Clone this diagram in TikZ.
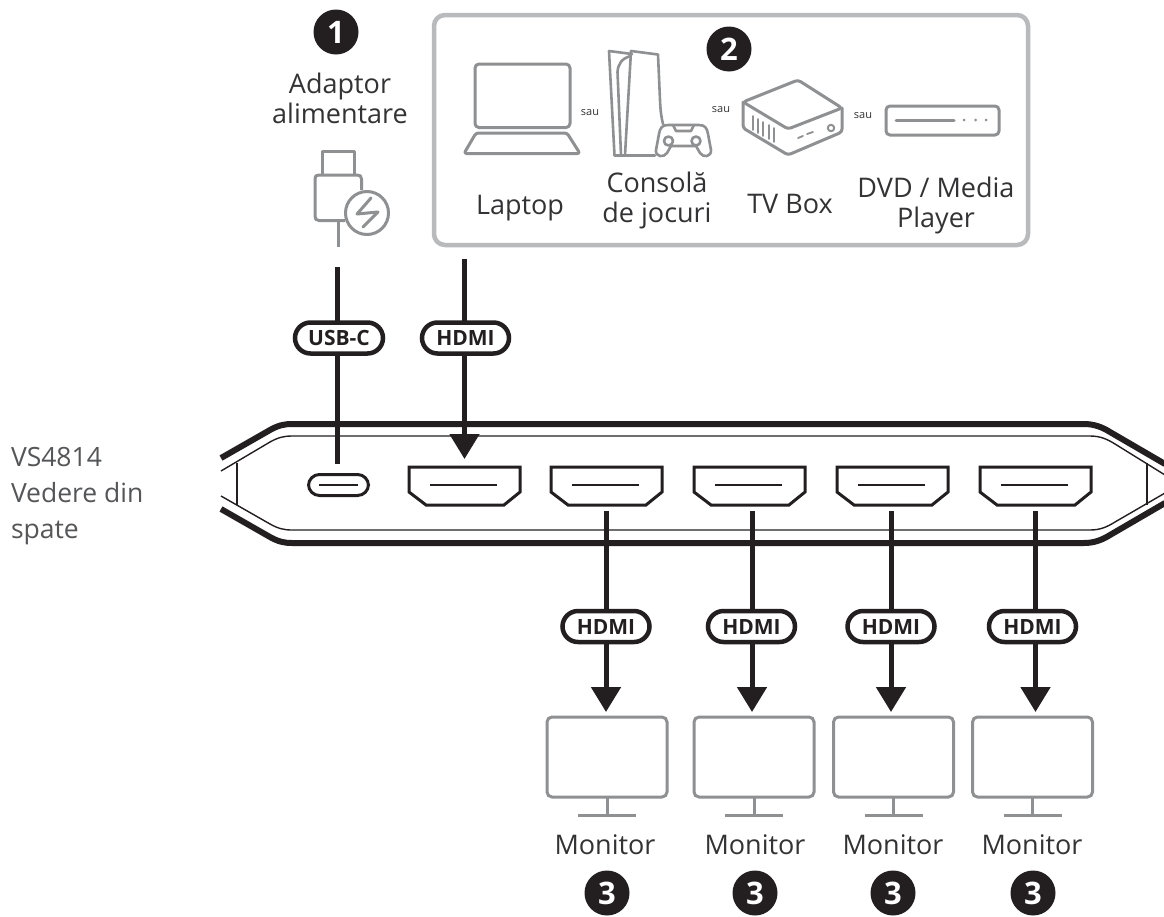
\documentclass[tikz,border=0pt]{standalone}
\usepackage{fontspec}
\setmainfont{Open Sans}
\usetikzlibrary{arrows.meta}
\definecolor{ink}{HTML}{231F20}
\definecolor{icon}{HTML}{8E9092}
\definecolor{frame}{HTML}{B8BABC}
\definecolor{txt}{HTML}{333335}
\definecolor{side}{HTML}{555658}
\tikzset{
  x=1pt,y=-1pt,
  every node/.style={inner sep=0pt,outer sep=0pt},
  badge/.style={circle,fill=ink,text=white,minimum size=45pt,font=\fontsize{31}{31}\selectfont\bfseries},
  lbl/.style={text=txt,align=center,font=\fontsize{27}{30}\selectfont},
  saulbl/.style={text=txt,font=\fontsize{11}{11}\selectfont},
  pill/.style={draw=ink,fill=white,line width=4.5pt,rounded corners=15.5pt,minimum height=31pt,text=ink,font=\fontsize{21}{21}\selectfont\bfseries},
  wire/.style={draw=ink,line width=5pt},
  flow/.style={wire,-{Triangle[length=25pt,width=29pt]}},
  thickbody/.style={draw=ink,line width=6pt},
  thinbody/.style={draw=ink,line width=1.4pt},
  port/.style={draw=ink,line width=3pt,line join=miter},
  portline/.style={draw=ink,line width=1.4pt},
  ico/.style={draw=icon,line width=3pt,line join=round,line cap=round},
  monitor/.style={draw=icon,line width=3pt,rounded corners=5pt,minimum width=120pt,minimum height=80pt},
}
\begin{document}
\begin{tikzpicture}
\path[use as bounding box,fill=white] (0,0) rectangle (1164,916);

% source frame
\node[draw=frame,line width=4.5pt,rounded corners=11pt,minimum width=594pt,minimum height=230pt,anchor=north west] (frame) at (434,15) {};

% device body
\draw[thickbody] (221,458) -- (270,430) .. controls (278,425.5) and (284,424) .. (292,424) -- (1084,424) .. controls (1094,424) and (1102,427) .. (1110,432) -- (1165,464);
\draw[thickbody] (221,509) -- (270,537) .. controls (278,541.5) and (284,543) .. (292,543) -- (1084,543) .. controls (1094,543) and (1102,540) .. (1110,535) -- (1165,503);
\draw[thinbody] (221,471) -- (270,442) .. controls (278,437.5) and (284,436) .. (292,436) -- (1090,436) .. controls (1100,436) and (1107,439) .. (1115,444) -- (1165,475);
\draw[thinbody] (221,496) -- (270,524) .. controls (278,528.5) and (284,530) .. (292,530) -- (1090,530) .. controls (1100,530) and (1107,527) .. (1115,522) -- (1165,493);
\draw[thinbody] (237,463) -- (237,505);
\draw[thinbody] (1147,463) -- (1147,505);

% ports
\node[draw=ink,line width=3pt,rounded corners=11pt,minimum width=60pt,minimum height=21pt] (usbport) at (338.5,485) {};
\draw[portline] (319,485) -- (358,485);
\foreach \i/\x in {0/409,1/551,2/694,3/837,4/980}{
  \draw[port] (\x,467) -- ({\x+111},467) -- ({\x+111},492) -- ({\x+95},505) -- ({\x+17},505) -- (\x,492) -- cycle;
  \draw[portline] ({\x+21},485) -- ({\x+88},485);
}

% input connectors
\coordinate (usbtop) at (337.5,267);
\coordinate (usbend) at (337.5,464);
\coordinate (hdmitop) at (464.5,259);
\coordinate (hdmiend) at (464.5,459);
\draw[wire] (usbtop) -- (usbend);
\draw[flow] (hdmitop) -- (hdmiend);
\node[pill,minimum width=88pt] (pusb) at (339,338) {USB-C};
\node[pill,minimum width=87pt] (phdmi) at (465.5,338) {HDMI};

% monitors and output connectors
\foreach \i/\ax/\px/\mx/\lx/\bx in {1/606/606/607/605/607,2/752/751.5/754/755/755,3/891/891/893.5/893/893,4/1035.5/1032.5/1032.5/1032/1033}{
  \node[monitor] (m\i) at (\mx,757) {};
  \draw[draw=icon,line width=3pt] (m\i.south) -- (\mx,814);
  \draw[draw=icon,line width=3pt] ({\mx-29},815) -- ({\mx+29},815);
  \coordinate (s\i) at (\ax,511);
  \coordinate (e\i) at (\ax,712);
  \draw[flow] (s\i) -- (e\i);
  \node[pill,minimum width=87pt] (p\i) at (\px,626.5) {HDMI};
  \node[lbl] (ml\i) at (\lx,845) {Monitor};
  \node[badge] (b\i) at (\bx,893) {3};
}

% badges
\node[badge] (b1top) at (336,32) {1};
\node[badge] (b2top) at (729,49) {2};

% labels
\node[lbl] (adaptor) at (340,98.5) {Adaptor\\alimentare};
\node[lbl] (laptop) at (520,208) {Laptop};
\node[lbl] (consola) at (657,200.5) {Consolă\\de jocuri};
\node[lbl] (tvbox) at (790,204) {TV Box};
\node[lbl] (dvd) at (936,205.5) {DVD / Media\\Player};
\node[saulbl] (sau1) at (590,113) {sau};
\node[saulbl] (sau2) at (721,110) {sau};
\node[saulbl] (sau3) at (863,116) {sau};
\node[anchor=west,align=left,text=side,font=\fontsize{26.5}{36}\selectfont] (vs) at (11,496) {VS4814\\Vedere din\\spate};

% charger icon
\draw[ico,line cap=butt] (322,175) -- (322,151) -- (354,151) -- (354,175);
\draw[ico,line cap=butt] (345,220.5) -- (319,220.5) .. controls (316,220.5) and (315,219) .. (315,216) -- (315,179) .. controls (315,176) and (316,175) .. (319,175) -- (357,175) .. controls (360,175) and (361.5,176) .. (361.5,179) -- (361.5,190);
\draw[ico] (367,213) circle[radius=21.5];
\draw[ico] (371,198) -- (357,214) -- (378,212) -- (363,227);
\draw[ico,line cap=butt] (338,221) -- (338,247);

% laptop icon
\draw[ico,rounded corners=4pt] (475,64) rectangle (570,127.5);
\draw[ico,rounded corners=2.5pt] (476,133) -- (567,133) -- (580,153.5) -- (464,153.5) -- cycle;

% console icon
\draw[ico,line width=2.6pt] (609,51) -- (632,54) (609,51) -- (614.5,155.5) -- (655,155.5);
\draw[ico,line width=2.6pt] (631,51) -- (658,54.5) -- (660,100) .. controls (660.5,112) and (661.5,118) .. (663,124);
\draw[ico,line width=2.6pt] (631,51) -- (625,155);
\draw[ico,line width=2.6pt] (631,56) .. controls (622,58) and (618,64) .. (617.5,72) -- (621,155);
\draw[ico,line width=2.6pt] (668,125) -- (699,125) .. controls (705,125) and (707,128) .. (708,134) -- (711,150) .. controls (711.5,157) and (703,158) .. (700,153) -- (696,146) -- (671,146) -- (667,153) .. controls (664,158) and (655,157) .. (656,150) -- (659,134) .. controls (660,128) and (662,125) .. (668,125);
\draw[ico,line width=2.6pt] (673,125) -- (676,131) -- (691,131) -- (694,125);
\draw[ico,line width=2.6pt] (668.5,141) circle[radius=4.5];
\draw[ico,line width=2.6pt] (696,141) circle[radius=4.5];

% TV box icon
\draw[ico,rounded corners=3pt] (743,102) -- (798,80) -- (842,108) -- (788,129) -- cycle;
\draw[ico,rounded corners=3pt] (743,102) -- (743,128) -- (788,155) -- (842,132) -- (842,108);
\foreach \vx/\vy in {753/116,758/119,763/122,769/125,774/128}{
  \draw[ico,line width=1.6pt] (\vx,\vy) -- (\vx,{\vy+14});
}
\draw[ico,line width=1.8pt] (798,138) -- (803,136);
\draw[ico,line width=1.8pt] (807,134) -- (813,132);
\draw[ico,line width=2pt] (831,128) circle[radius=3.2];

% DVD icon
\draw[ico,rounded corners=4pt] (886,106) rectangle (999,135);
\draw[ico] (896,120) -- (954,120);
\foreach \dx in {964,975.5,986}{\fill[icon] (\dx,120) circle[radius=1.5];}
\end{tikzpicture}
\end{document}
